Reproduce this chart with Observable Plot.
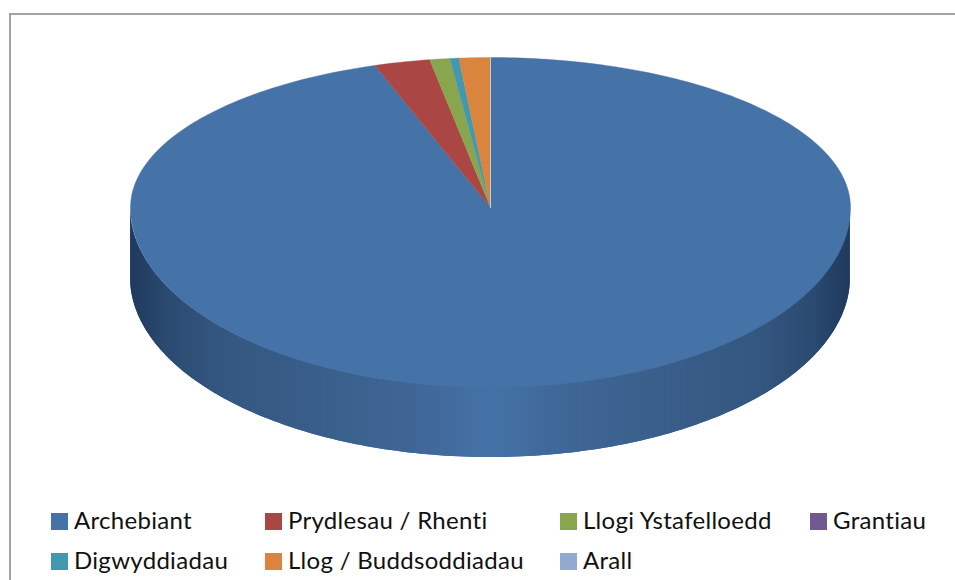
<!DOCTYPE html>
<html>
<head>
<meta charset="utf-8">
<script src="https://cdn.jsdelivr.net/npm/d3@7"></script>
<script src="https://cdn.jsdelivr.net/npm/@observablehq/plot@0.6"></script>
<style>
  html, body { margin: 0; padding: 0; background: #fff; overflow: hidden; }
  #page { position: relative; width: 955px; height: 580px; overflow: hidden; }
  #frame { position: absolute; left: 9px; top: 13px; width: 960px; height: 600px; box-sizing: border-box;
           border-left: 2px solid #a3a3a3; border-top: 2px solid #a3a3a3; }
  #chart { position: absolute; left: 0; top: 0; }
  #legend { position: absolute; left: 0; top: 0; width: 955px; height: 580px; font-family: Lato, sans-serif; font-size: 24px; letter-spacing: 0.3px; font-variant-ligatures: none; color: #111; }
  .sw { position: absolute; width: 17px; height: 17px; }
  .lb { position: absolute; line-height: 28px; white-space: nowrap; }
</style>
</head>
<body>
<div id="page">
  <div id="frame"></div>
  <div id="chart"></div>
  <div id="legend"></div>
</div>
<script>
// Data
const categories = ["Archebiant", "Prydlesau / Rhenti", "Llogi Ystafelloedd", "Grantiau", "Digwyddiadau", "Llog / Buddsoddiadau", "Arall"];
const shares = [94.8, 2.5, 0.9, 0, 0.4, 1.4, 0];
const colors = ["#4572a7", "#aa4643", "#89a54e", "#71588f", "#4198af", "#db843d", "#93a9cf"];

// Side wall shading (position across the pie -> colour)
const wallStops = [-1, -0.9, -0.75, -0.45, -0.2, 0, 0.2, 0.45, 0.75, 0.9, 1];
const wallColors = ["#203a5c", "#2a4a70", "#345780", "#3a5f8b", "#3f6797", "#4572a7", "#3f6797", "#3a5f8b", "#345780", "#2a4a70", "#203a5c"];
const wallDepth = 70 / 180;   // wall height, in front-radius units
const backSquash = 150 / 180; // the back half of the disc is foreshortened

const wallColor = d3.scaleLinear().domain(wallStops).range(wallColors);

// Slices clockwise from 12 o'clock, ending at 12 o'clock with the small ones
const total = d3.sum(shares);
let acc = 0;
const slices = categories.map((name, i) => {
  const a0 = acc / total * 2 * Math.PI;
  acc += shares[i];
  return {name, color: colors[i], a0, a1: acc / total * 2 * Math.PI};
}).filter(s => s.a1 > s.a0);

const toX = a => Math.sin(a);
const toY = a => { const c = Math.cos(a); return c > 0 ? c * backSquash : c; };

// Polygon rows for every slice
const faces = [];
for (const s of slices) {
  const n = Math.max(2, Math.ceil((s.a1 - s.a0) / (Math.PI / 180)));
  faces.push({name: s.name, color: s.color, x: 0, y: 0});
  for (let k = 0; k <= n; ++k) {
    const a = s.a0 + (s.a1 - s.a0) * k / n;
    faces.push({name: s.name, color: s.color, x: toX(a), y: toY(a)});
  }
  faces.push({name: s.name, color: s.color, x: 0, y: 0});
}

// Wall strips along the front half of the rim, each overlapped by the next so no seams show.
// The strips run right to left in angle, so each is painted from its own edge to one step past it.
const wall = [];
for (let deg = 90; deg < 270; ++deg) {
  const a0 = deg * Math.PI / 180, a1 = Math.min(deg + 2, 270) * Math.PI / 180;
  const color = wallColor(toX(a0 + Math.PI / 360));
  for (const a of [a1, (a0 + a1) / 2, a0]) {
    wall.push({strip: deg, color, x: toX(a), y1: toY(a), y2: toY(a) - wallDepth});
  }
}

const seam = [{x: 0, y: 0}, {x: 0, y: backSquash}];

const pieChart = Plot.plot({
  width: 955,
  height: 480,
  margin: 0,
  style: {background: "transparent"},
  x: {domain: [-1, 1], range: [130, 850], axis: null},
  y: {domain: [backSquash, -1 - wallDepth], range: [57, 457], axis: null},
  color: {type: "identity"},
  marks: [
    Plot.areaY(wall, {x: "x", y1: "y1", y2: "y2", z: "strip", fill: "color"}),
    Plot.line(faces, {x: "x", y: "y", z: "name", fill: "color", stroke: "color", strokeWidth: 0.4, curve: "linear"}),
    Plot.line(seam, {x: "x", y: "y", stroke: "#c3ccd9", strokeWidth: 1})
  ]
});
document.getElementById("chart").appendChild(pieChart);

// Legend
const legendSpots = [[51, 513], [265, 513], [560, 513], [810, 513], [51, 553], [265, 553], [560, 553]];
const legendBox = document.getElementById("legend");
categories.forEach((name, i) => {
  const [lx, ly] = legendSpots[i];
  const sw = document.createElement("div");
  sw.className = "sw";
  sw.style.cssText = `left:${lx}px;top:${ly}px;background:${colors[i]}`;
  const lb = document.createElement("div");
  lb.className = "lb";
  lb.style.cssText = `left:${lx + 23}px;top:${ly - 7}px`;
  lb.textContent = name;
  legendBox.append(sw, lb);
});
</script>
</body>
</html>
